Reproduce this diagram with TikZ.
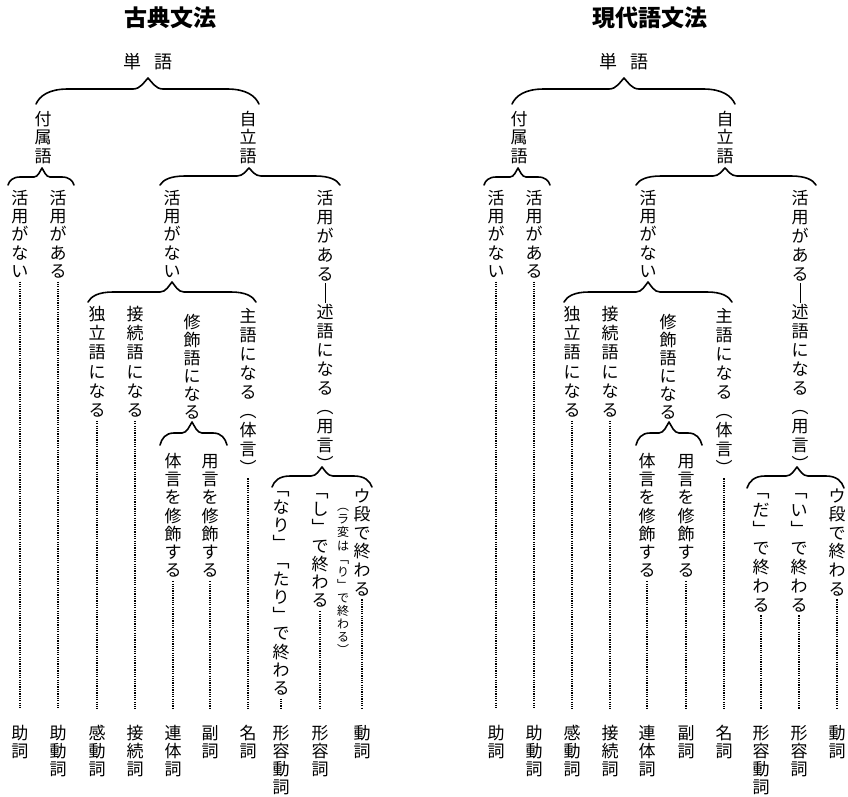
\documentclass[tikz,border=0pt]{standalone}
\usepackage{fontspec}
\setmainfont{Noto Sans CJK JP}
\makeatletter
\newlength\vt@gap
\newcommand\vtx[2][18.8pt]{%
  \vbox{\offinterlineskip
    \setlength\vt@gap{#1}\addtolength\vt@gap{-1em}%
    \@tfor\vt@c:=#2\do{%
      \hbox to 1em{\hss\raisebox{0pt}[0.88em][0.12em]{\vt@c}\hss}\kern\vt@gap}%
    \kern-\vt@gap}}
\makeatother
\newcommand\vbar{\rule[-0.2em]{0.7pt}{1.15em}}
% brace: xl xr xt yend ymid ytip r d
\newcommand\hbr[8]{%
  \draw[brc] (#1,#4)
    .. controls ({#1+0.12*#7},{#5+0.45*(#4-#5)}) and ({#1+0.4*#7},{#5}) .. ({#1+#7},{#5})
    -- ({#3-#8},{#5})
    .. controls ({#3-0.5*#8},{#5}) and ({#3-0.25*#8},{#6+0.35*(#5-#6)}) .. (#3,#6)
    .. controls ({#3+0.25*#8},{#6+0.35*(#5-#6)}) and ({#3+0.5*#8},{#5}) .. ({#3+#8},{#5})
    -- ({#2-#7},{#5})
    .. controls ({#2-0.4*#7},{#5}) and ({#2-0.12*#7},{#5+0.45*(#4-#5)}) .. (#2,#4);}
\tikzset{
  vcol/.style={anchor=north, inner sep=0pt, font=\fontsize{17}{19}\selectfont},
  vsmall/.style={anchor=north, inner sep=0pt, font=\fontsize{12}{13}\selectfont},
  ttl/.style={inner sep=0pt, font=\fontsize{23}{26}\selectfont\bfseries},
  wrd/.style={inner sep=0pt, font=\fontsize{18}{20}\selectfont},
  brc/.style={line width=1.6pt, line join=round, line cap=round},
  dotl/.style={line width=1.4pt, dash pattern=on 1.2pt off 1.1pt}
}
\begin{document}
\begin{tikzpicture}[x=1pt,y=-1pt]
\fill[white] (0,0) rectangle (848,796);
\useasboundingbox (0,0) rectangle (848,796);

% ================= LEFT: 古典文法 =================
\node[ttl] (Lt) at (170,18) {古典文法};
\node[wrd] (Lw) at (148,62) {単\hspace{13pt}語};
\hbr{36}{259}{148}{104}{89}{78}{32}{15}
\node[vcol] (Lfz) at (43,110) {\vtx{付属語}};
\node[vcol] (Ljr) at (248,110) {\vtx{自立語}};
\hbr{8}{74}{42}{185}{177}{168}{12}{8}
\hbr{160}{340}{249}{185}{176}{168}{25}{12}
\node[vcol] (La) at (20,189) {\vtx[18.3pt]{活用がない}};
\node[vcol] (Lb) at (58,189) {\vtx[18.3pt]{活用がある}};
\node[vcol] (Lc) at (172,189) {\vtx[18.3pt]{活用がない}};
\node[vcol] (Ld) at (325,189) {\vtx[19pt]{活用がある{\vbar}述語になる︵用言︶}};
\hbr{88}{256}{172}{302}{292}{282}{25}{12}
\node[vcol] (Le) at (97,305) {\vtx[19.3pt]{独立語になる}};
\node[vcol] (Lf) at (135,305) {\vtx[19.3pt]{接続語になる}};
\node[vcol] (Lg) at (192,313) {\vtx[18pt]{修飾語になる}};
\node[vcol] (Lh) at (248,307) {\vtx[19pt]{主語になる︵体言︶}};
\hbr{160}{227}{192}{445}{433}{422}{14}{10}
\node[vcol] (Li) at (173,452) {\vtx[18.3pt]{体言を修飾する}};
\node[vcol] (Lj) at (210,452) {\vtx[18.3pt]{用言を修飾する}};
\hbr{272}{372}{322}{487}{476}{467}{18}{11}
\node[vcol] (Lk) at (281,480) {\vtx[18.1pt]{﹁なり﹂﹁たり﹂で終わる}};
\node[vcol] (Ll) at (320,482) {\vtx[18.3pt]{﹁し﹂で終わる}};
\node[vcol] (Lm) at (362,487) {\vtx[18.6pt]{ウ段で終わる}};
\node[vsmall] (Ln) at (343,500) {\vtx[13.1pt]{︵ラ変は﹁り﹂で終わる︶}};
% labels
\node[vcol] (L1) at (20,724) {\vtx[18pt]{助詞}};
\node[vcol] (L2) at (58,724) {\vtx[18pt]{助動詞}};
\node[vcol] (L3) at (97,724) {\vtx[18pt]{感動詞}};
\node[vcol] (L4) at (135,724) {\vtx[18pt]{接続詞}};
\node[vcol] (L5) at (173,724) {\vtx[18pt]{連体詞}};
\node[vcol] (L6) at (210,724) {\vtx[18pt]{副詞}};
\node[vcol] (L7) at (248,724) {\vtx[18pt]{名詞}};
\node[vcol] (L8) at (281,724) {\vtx[18pt]{形容動詞}};
\node[vcol] (L9) at (320,724) {\vtx[18pt]{形容詞}};
\node[vcol] (L10) at (362,724) {\vtx[18pt]{動詞}};
\foreach \a/\b in {La/L1,Lb/L2,Le/L3,Lf/L4,Li/L5,Lj/L6,Lh/L7,Lk/L8,Ll/L9,Lm/L10}
  \draw[dotl] ([yshift=-2pt]\a.south) -- ([yshift=15pt]\b.north);

% ================= RIGHT: 現代語文法 =================
\node[ttl] (Rt) at (650,18) {現代語文法};
\node[wrd] (Rw) at (624,62) {単\hspace{13pt}語};
\hbr{512}{735}{624}{104}{89}{78}{32}{15}
\node[vcol] (Rfz) at (519,110) {\vtx{付属語}};
\node[vcol] (Rjr) at (725,110) {\vtx{自立語}};
\hbr{484}{550}{518}{185}{177}{168}{12}{8}
\hbr{636}{816}{725}{185}{176}{168}{25}{12}
\node[vcol] (Ra) at (496,189) {\vtx[18.3pt]{活用がない}};
\node[vcol] (Rb) at (534,189) {\vtx[18.3pt]{活用がある}};
\node[vcol] (Rc) at (648,189) {\vtx[18.3pt]{活用がない}};
\node[vcol] (Rd) at (800,189) {\vtx[19pt]{活用がある{\vbar}述語になる︵用言︶}};
\hbr{564}{732}{648}{302}{292}{282}{25}{12}
\node[vcol] (Re) at (572,305) {\vtx[19.3pt]{独立語になる}};
\node[vcol] (Rf) at (610,305) {\vtx[19.3pt]{接続語になる}};
\node[vcol] (Rg) at (668,313) {\vtx[18pt]{修飾語になる}};
\node[vcol] (Rh) at (724,307) {\vtx[19pt]{主語になる︵体言︶}};
\hbr{636}{702}{669}{445}{433}{422}{14}{10}
\node[vcol] (Ri) at (647,452) {\vtx[18.3pt]{体言を修飾する}};
\node[vcol] (Rj) at (686,452) {\vtx[18.3pt]{用言を修飾する}};
\hbr{747}{844}{797}{488}{476}{467}{18}{11}
\node[vcol] (Rk) at (761,482) {\vtx[19pt]{﹁だ﹂で終わる}};
\node[vcol] (Rl) at (799,482) {\vtx[19pt]{﹁い﹂で終わる}};
\node[vcol] (Rm) at (837,487) {\vtx[18.6pt]{ウ段で終わる}};
% labels
\node[vcol] (R1) at (496,724) {\vtx[18pt]{助詞}};
\node[vcol] (R2) at (534,724) {\vtx[18pt]{助動詞}};
\node[vcol] (R3) at (572,724) {\vtx[18pt]{感動詞}};
\node[vcol] (R4) at (610,724) {\vtx[18pt]{接続詞}};
\node[vcol] (R5) at (647,724) {\vtx[18pt]{連体詞}};
\node[vcol] (R6) at (686,724) {\vtx[18pt]{副詞}};
\node[vcol] (R7) at (724,724) {\vtx[18pt]{名詞}};
\node[vcol] (R8) at (761,724) {\vtx[18pt]{形容動詞}};
\node[vcol] (R9) at (799,724) {\vtx[18pt]{形容詞}};
\node[vcol] (R10) at (837,724) {\vtx[18pt]{動詞}};
\foreach \a/\b in {Ra/R1,Rb/R2,Re/R3,Rf/R4,Ri/R5,Rj/R6,Rh/R7,Rk/R8,Rl/R9,Rm/R10}
  \draw[dotl] ([yshift=-2pt]\a.south) -- ([yshift=15pt]\b.north);
\end{tikzpicture}
\end{document}
